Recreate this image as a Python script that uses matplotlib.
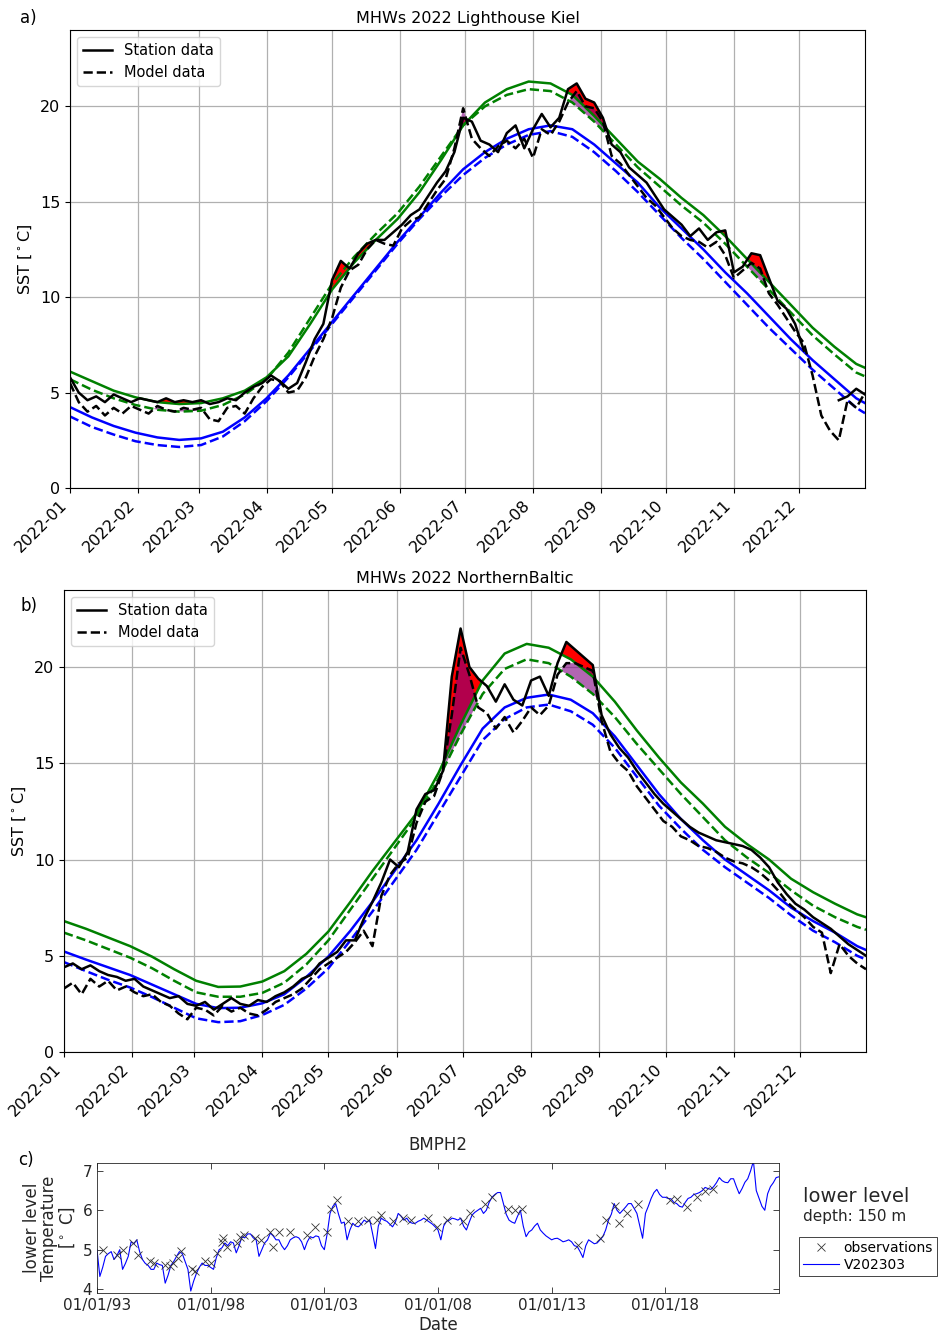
import numpy as np
import matplotlib
matplotlib.use('Agg')
import matplotlib.pyplot as plt
import matplotlib.dates as mdates
from datetime import datetime, timedelta

# ---- panels a/b : 2022 daily-ish series (every 4 days) ----
days_s = list(range(0, 365, 4))
# smooth climatology / threshold curves (every 10 days)
days_c = list(range(0, 361, 10)) + [364]

nan = np.nan

# Lighthouse Kiel
sta_a = [5.8, 5.0, 4.6, 4.8, 4.5, 4.9, 4.7, 4.5, 4.7, 4.6,
         4.5, 4.7, 4.5, 4.6, 4.5, 4.6, 4.4, 4.5, 4.7, 4.6,
         5.0, 5.3, 5.5, 5.9, 5.6, 5.2, 5.5, 6.6, 7.8, 8.6,
         10.9, 11.9, 11.5, 12.3, 12.8, 13.0, 13.0, 13.4, 13.8, 14.3,
         14.6, 15.3, 16.0, 16.6, 17.6, 19.4, 19.2, 18.2, 18.0, 17.6,
         18.6, 19.0, 17.8, 18.8, 19.6, 18.9, 19.4, 20.9, 21.2, 20.4,
         20.2, 19.4, 18.0, 17.6, 16.8, 16.4, 16.0, 15.3, 14.6, 14.2,
         13.8, 13.2, 13.6, 13.0, 13.4, 13.5, 11.3, 11.6, 12.3, 12.2,
         11.0, 9.8, 9.4, 8.6, 7.2, nan, nan, nan, 4.6, 4.8,
         5.2, 4.9]
mod_a = [5.5, 4.5, 4.0, 4.3, 3.8, 4.2, 3.9, 4.3, 4.1, 3.9,
         4.3, 4.1, 4.0, 4.2, 4.1, 4.2, 3.6, 3.5, 4.2, 4.3,
         3.9, 4.7, 5.3, 5.7, 5.6, 5.0, 5.1, 5.8, 6.9, 7.8,
         8.9, 10.5, 11.4, 11.7, 12.5, 13.0, 12.8, 12.7, 13.6, 14.0,
         14.2, 14.9, 15.6, 16.2, 17.8, 19.9, 18.3, 17.8, 17.4, 17.9,
         18.2, 17.8, 18.3, 17.3, 18.8, 18.5, 19.2, 20.2, 20.8, 20.0,
         19.9, 19.2, 17.4, 17.0, 16.4, 15.8, 15.2, 14.8, 14.2, 13.6,
         13.2, 13.0, 12.9, 12.6, 12.9, 12.2, 11.0, 11.4, 11.8, 11.5,
         10.2, 9.6, 8.9, 8.2, 7.6, 5.9, 3.8, 3.0, 2.5, 4.6,
         4.2, 5.0]
thr_a = [6.1, 5.6, 5.1, 4.75, 4.5, 4.4, 4.45, 4.7, 5.1, 5.8, 6.9, 8.6, 10.4,
         11.8, 13.0, 14.1, 15.5, 17.2, 19.0, 20.2, 20.9, 21.3, 21.2, 20.6,
         19.5, 18.3, 17.1, 16.2, 15.2, 14.3, 13.2, 12.0, 10.8, 9.6, 8.4, 7.4,
         6.5, 6.3]
mthr_a = [5.7, 5.15, 4.7, 4.35, 4.1, 4.0, 4.05, 4.35, 4.9, 5.7, 7.1, 8.9, 10.7,
          12.1, 13.3, 14.4, 15.8, 17.4, 19.0, 20.0, 20.6, 20.9, 20.8, 20.2,
          19.2, 18.0, 16.8, 15.8, 14.8, 13.9, 12.8, 11.6, 10.4, 9.2, 8.0, 7.0,
          6.05, 5.85]
clim_a = [4.24, 3.7, 3.25, 2.9, 2.65, 2.52, 2.6, 2.95, 3.7, 4.7, 5.9, 7.3, 8.7,
          10.1, 11.5, 12.9, 14.2, 15.5, 16.7, 17.6, 18.3, 18.8, 19.0, 18.8,
          18.0, 17.0, 16.0, 14.7, 13.6, 12.5, 11.3, 10.2, 9.0, 7.8, 6.7, 5.7,
          4.7, 4.45]
mclim_a = [3.75, 3.2, 2.8, 2.45, 2.25, 2.15, 2.25, 2.7, 3.5, 4.55, 5.8, 7.2, 8.6,
           10.0, 11.4, 12.8, 14.1, 15.3, 16.4, 17.3, 18.0, 18.5, 18.7, 18.4,
           17.6, 16.6, 15.5, 14.3, 13.1, 12.0, 10.8, 9.6, 8.4, 7.3, 6.2, 5.2,
           4.2, 3.92]

# Northern Baltic
sta_b = [4.4, 4.6, 4.3, 4.5, 4.2, 4.0, 3.9, 3.7, 3.8, 3.4,
         3.2, 3.0, 2.8, 2.9, 2.5, 2.4, 2.6, 2.2, 2.5, 2.8,
         2.5, 2.4, 2.7, 2.6, 2.9, 3.1, 3.4, 3.8, 4.0, 4.6,
         4.9, 5.2, 5.8, 5.8, 6.9, 7.8, 8.8, 10.0, 9.6, 10.4,
         12.6, 13.4, 13.6, 14.6, 19.5, 22.0, 20.0, 19.4, 19.0, 18.2,
         19.1, 18.3, 18.0, 19.3, 19.5, 18.5, 20.2, 21.3, 20.9, 20.5,
         20.1, 17.5, 16.5, 15.8, 15.3, 14.6, 14.0, 13.4, 12.9, 12.5,
         12.1, 11.7, 11.4, 11.2, 11.0, 10.9, 10.8, 10.7, 10.5, 10.1,
         9.6, 8.8, 8.2, 7.7, 7.4, 7.0, 6.7, 6.4, 6.0, 5.6,
         5.3, 5.0]
mod_b = [3.3, 3.6, 3.0, 3.8, 3.4, 3.7, 3.2, 3.4, 3.1, 2.9,
         3.0, 2.6, 2.4, 2.0, 1.7, 2.3, 2.2, 1.9, 2.4, 2.1,
         2.3, 2.0, 1.9, 2.2, 2.6, 2.8, 3.0, 3.3, 3.8, 4.3,
         4.6, 4.9, 5.2, 5.7, 6.3, 5.5, 8.1, 9.2, 9.8, 10.1,
         11.9, 13.0, 13.3, 14.6, 17.5, 21.0, 19.6, 17.9, 17.6, 16.8,
         17.4, 16.6, 17.2, 17.9, 17.5, 18.0, 19.6, 20.2, 20.2, 20.0,
         19.8, 17.2, 15.6, 15.0, 14.6, 13.8, 13.2, 12.6, 12.0, 11.7,
         11.2, 11.0, 10.7, 10.6, 10.4, 10.1, 9.9, 9.8, 9.6, 9.3,
         8.9, 8.4, 7.8, 7.4, 7.0, 6.5, 6.2, 4.1, 5.6, 5.0,
         4.6, 4.3]
thr_b = [6.8, 6.4, 5.95, 5.5, 4.95, 4.3, 3.7, 3.38, 3.4, 3.66, 4.2, 5.1, 6.26,
         7.8, 9.4, 10.9, 12.4, 14.5, 17.0, 19.3, 20.7, 21.2, 21.0, 20.4, 19.5,
         18.2, 16.7, 15.3, 14.0, 12.9, 11.7, 10.8, 10.0, 9.0, 8.3, 7.7, 7.15,
         7.0]
mthr_b = [6.2, 5.8, 5.35, 4.9, 4.35, 3.7, 3.1, 2.87, 2.87, 3.07, 3.6, 4.55, 5.8,
          7.4, 9.0, 10.6, 12.2, 14.2, 16.5, 18.6, 19.9, 20.4, 20.2, 19.5, 18.6,
          17.4, 16.0, 14.7, 13.4, 12.2, 11.0, 10.1, 9.3, 8.4, 7.6, 7.0, 6.5,
          6.35]
clim_b = [5.22, 4.8, 4.4, 4.0, 3.5, 3.0, 2.5, 2.28, 2.3, 2.53, 3.0, 3.9, 4.96,
          6.3, 7.8, 9.4, 11.0, 12.9, 14.9, 16.8, 17.9, 18.4, 18.57, 18.3, 17.6,
          16.4, 14.9, 13.4, 12.1, 11.0, 10.0, 9.2, 8.4, 7.5, 6.8, 6.2, 5.5,
          5.3]
mclim_b = [4.67, 4.2, 3.75, 3.35, 2.85, 2.3, 1.75, 1.55, 1.6, 1.92, 2.45, 3.3,
           4.35, 5.8, 7.3, 8.9, 10.5, 12.4, 14.3, 16.2, 17.3, 17.9, 18.05, 17.7,
           17.0, 15.8, 14.3, 12.8, 11.6, 10.5, 9.6, 8.8, 8.0, 7.1, 6.3, 5.7,
           5.0, 4.8]

# ---- panel c : BMPH2 lower level, 1993-2022, 8 samples per year ----
c_mod = [5.0, 4.32, 4.55, 4.83, 4.9, 4.95, 4.75, 4.85,      # 1993
         5.0, 4.5, 4.65, 4.83, 5.2, 5.15, 5.25, 4.95,       # 1994
         4.75, 4.65, 4.6, 4.5, 4.5, 4.66, 4.62, 4.6,        # 1995
         4.15, 4.35, 4.6, 4.7, 4.83, 4.95, 4.9, 4.7,        # 1996
         4.5, 3.95, 4.2, 4.4, 4.55, 4.66, 4.6, 4.6,         # 1997
         4.55, 4.5, 4.8, 5.0, 5.05, 5.17, 5.1, 5.2,         # 1998
         5.17, 4.92, 5.1, 5.33, 5.3, 5.4, 5.4, 5.3,         # 1999
         5.25, 4.83, 5.0, 5.17, 5.25, 5.42, 5.35, 5.25,     # 2000
         5.25, 5.1, 5.0, 5.1, 5.25, 5.3, 5.33, 5.3,         # 2001
         5.2, 5.0, 5.2, 5.33, 5.3, 5.35, 5.33, 5.1,         # 2002
         5.0, 5.4, 5.92, 6.1, 6.17, 5.9, 5.67, 5.7,         # 2003
         5.25, 5.5, 5.67, 5.6, 5.58, 5.65, 5.75, 5.7,       # 2004
         5.75, 5.4, 5.03, 5.6, 5.8, 5.75, 5.72, 5.65,       # 2005
         5.58, 5.7, 5.92, 5.85, 5.75, 5.8, 5.7, 5.67,       # 2006
         5.67, 5.72, 5.75, 5.8, 5.75, 5.7, 5.65, 5.58,      # 2007
         5.5, 5.25, 5.6, 5.72, 5.75, 5.8, 5.78, 5.75,       # 2008
         5.8, 5.6, 5.5, 5.7, 5.88, 5.95, 6.0, 6.05,         # 2009
         5.92, 6.0, 6.2, 6.33, 6.4, 6.45, 6.45, 6.17,       # 2010
         5.9, 5.75, 5.7, 5.67, 5.85, 6.0, 5.6, 5.33,        # 2011
         5.45, 5.5, 5.6, 5.67, 5.5, 5.42, 5.35, 5.3,        # 2012
         5.25, 5.28, 5.29, 5.25, 5.2, 5.22, 5.25, 5.2,      # 2013
         5.1, 5.08, 4.95, 4.8, 5.1, 5.25, 5.2, 5.15,        # 2014
         5.17, 5.25, 5.33, 5.5, 5.75, 5.9, 6.17, 6.0,       # 2015
         5.92, 6.0, 6.08, 6.17, 6.17, 6.05, 5.92, 5.6,      # 2016
         5.29, 5.92, 6.1, 6.3, 6.45, 6.53, 6.4, 6.33,       # 2017
         6.33, 6.3, 6.29, 6.2, 6.17, 6.1, 6.08, 6.2,        # 2018
         6.3, 6.33, 6.4, 6.42, 6.45, 6.5, 6.58, 6.55,       # 2019
         6.53, 6.6, 6.7, 6.83, 6.75, 6.71, 6.7, 6.8,        # 2020
         6.8, 6.6, 6.42, 6.55, 6.71, 6.8, 7.0, 7.25,        # 2021
         6.5, 6.3, 6.1, 6.0, 6.42, 6.6, 6.7, 6.83,          # 2022
         6.85]
c_yr = 1993 + np.arange(len(c_mod)) / 8.0
obs_yr = [1993.28, 1993.9, 1994.16, 1994.6, 1994.8, 1995.33, 1995.5, 1996.0,
          1996.2, 1996.35, 1996.55, 1996.7, 1997.17, 1997.3, 1997.75, 1998.0,
          1998.27, 1998.5, 1998.55, 1998.7, 1999.15, 1999.3, 1999.45, 1999.95,
          2000.2, 2000.6, 2000.75, 2001.0, 2001.5, 2002.23, 2002.6, 2003.1,
          2003.3, 2003.55, 2004.05, 2004.5, 2004.9, 2005.3, 2005.5, 2006.0,
          2006.45, 2006.8, 2007.57, 2007.95, 2008.39, 2009.12, 2009.4, 2010.07,
          2010.37, 2011.1, 2011.4, 2011.68, 2014.18, 2015.13, 2015.4, 2015.8,
          2015.95, 2016.3, 2016.8, 2018.2, 2018.5, 2018.94, 2019.38, 2019.75,
          2020.1]
obs_val = [5.0, 4.87, 5.0, 5.17, 4.87, 4.7, 4.66, 4.62,
           4.58, 4.66, 4.79, 4.96, 4.5, 4.45, 4.7, 4.66,
           4.92, 5.2, 5.3, 5.08, 5.17, 5.33, 5.37, 5.3,
           5.25, 5.45, 5.08, 5.45, 5.45, 5.37, 5.58, 5.45,
           6.04, 6.25, 5.72, 5.72, 5.76, 5.76, 5.88, 5.72,
           5.8, 5.76, 5.8, 5.58, 5.75, 5.72, 5.92, 6.17,
           6.33, 6.04, 6.0, 6.04, 5.12, 5.29, 5.75, 6.12,
           5.67, 5.92, 6.17, 6.25, 6.29, 6.08, 6.33, 6.5,
           6.54]
c_ticks = [1993, 1998, 2003, 2008, 2013, 2018]
c_ticklabels = ['01/01/93', '01/01/98', '01/01/03', '01/01/08', '01/01/13', '01/01/18']

t0 = datetime(2022, 1, 1)


def to_dates(ds):
    return [t0 + timedelta(days=d) for d in ds]


def mhw_panel(ax, sta, mod, thr, mthr, clim, mclim, title):
    xs = mdates.date2num(to_dates(days_s))
    xc = mdates.date2num(to_dates(days_c))
    sta = np.array(sta)
    mod = np.array(mod)
    thr_s = np.interp(days_s, days_c, thr)
    mthr_s = np.interp(days_s, days_c, mthr)
    ok = ~np.isnan(sta)
    ax.fill_between(xs, thr_s, np.where(ok, sta, thr_s), where=ok & (sta > thr_s),
                    interpolate=True, color='red', lw=0, zorder=1)
    ax.fill_between(xs, mthr_s, mod, where=mod > mthr_s, interpolate=True,
                    color='purple', alpha=0.6, lw=0, zorder=1.5)
    ax.plot(xc, thr, color='green', lw=1.8, zorder=2)
    ax.plot(xc, mthr, color='green', lw=1.8, ls='--', zorder=2)
    ax.plot(xc, clim, color='blue', lw=1.8, zorder=2)
    ax.plot(xc, mclim, color='blue', lw=1.8, ls='--', zorder=2)
    ax.plot(xs, sta, color='black', lw=1.8, zorder=3, label='Station data')
    ax.plot(xs, mod, color='black', lw=1.8, ls='--', zorder=3, label='Model data')
    ax.set_xlim(xs[0], xs[-1])
    ax.set_ylim(0, 24)
    ax.set_yticks([0, 5, 10, 15, 20])
    ax.xaxis.set_major_locator(mdates.MonthLocator())
    ax.xaxis.set_major_formatter(mdates.DateFormatter('%Y-%m'))
    ax.grid(True, color='#b0b0b0', lw=0.9)
    ax.set_axisbelow(True)
    ax.tick_params(labelsize=11.5)
    for lab in ax.get_xticklabels():
        lab.set_rotation(45)
        lab.set_ha('right')
    ax.set_ylabel('SST [$^\\circ$C]', fontsize=11.5)
    ax.set_title(title, fontsize=11.5, pad=5)
    ax.legend(loc='upper left', fontsize=10.5)


fig = plt.figure(figsize=(9.43, 13.36), dpi=100)
H = 1336.0
W = 943.0

ax1 = fig.add_axes([70 / W, 1 - 488 / H, 795 / W, 458 / H])
mhw_panel(ax1, sta_a, mod_a, thr_a, mthr_a, clim_a, mclim_a, 'MHWs 2022 Lighthouse Kiel')
fig.text(20 / W, 1 - 18 / H, 'a)', fontsize=12, va='center')

ax2 = fig.add_axes([64 / W, 1 - 1052 / H, 802 / W, 462 / H])
mhw_panel(ax2, sta_b, mod_b, thr_b, mthr_b, clim_b, mclim_b, 'MHWs 2022 NorthernBaltic')
fig.text(20 / W, 1 - 606 / H, 'b)', fontsize=12, va='center')

# panel c, matlab look
grey = '#262626'
ax3 = fig.add_axes([97 / W, 1 - 1293 / H, 682 / W, 130 / H])
l_mod, = ax3.plot(c_yr, c_mod, color='#0000ff', lw=0.8, label='V202303')
l_obs, = ax3.plot(obs_yr, obs_val, ls='none', marker='x', color='#333333',
                  ms=6, mew=0.6, label='observations')
ax3.set_xlim(1993, 2023)
ax3.set_ylim(3.9, 7.2)
ax3.set_yticks([4, 5, 6, 7])
ax3.set_xticks(c_ticks)
ax3.set_xticklabels(c_ticklabels)
ax3.tick_params(direction='in', top=True, right=True, labelsize=11,
                colors=grey, length=4, width=0.6)
for s in ax3.spines.values():
    s.set_color(grey)
    s.set_linewidth(0.6)
ax3.set_title('BMPH2', fontsize=12, pad=9, color=grey)
ax3.set_xlabel('Date', fontsize=12, color=grey, labelpad=2)
ax3.set_ylabel('lower level\nTemperature\n[$^\\circ$ C]', fontsize=12,
               color=grey, linespacing=0.95)
fig.text(18 / W, 1 - 1160 / H, 'c)', fontsize=12, va='center')
fig.text(803 / W, 1 - 1197 / H, 'lower level', fontsize=14, va='center', color=grey)
fig.text(803 / W, 1 - 1216 / H, 'depth: 150 m', fontsize=11, va='center', color=grey)
leg = ax3.legend([l_obs, l_mod], ['observations', 'V202303'], loc='upper left',
                 bbox_to_anchor=(799 / W, 1 - 1237 / H), bbox_transform=fig.transFigure,
                 fontsize=10, fancybox=False, framealpha=1, edgecolor=grey,
                 borderaxespad=0, handlelength=2.6, handletextpad=0.3,
                 borderpad=0.3, labelspacing=0.2)
leg.get_frame().set_linewidth(0.6)

fig.savefig('out.png', dpi=100)
